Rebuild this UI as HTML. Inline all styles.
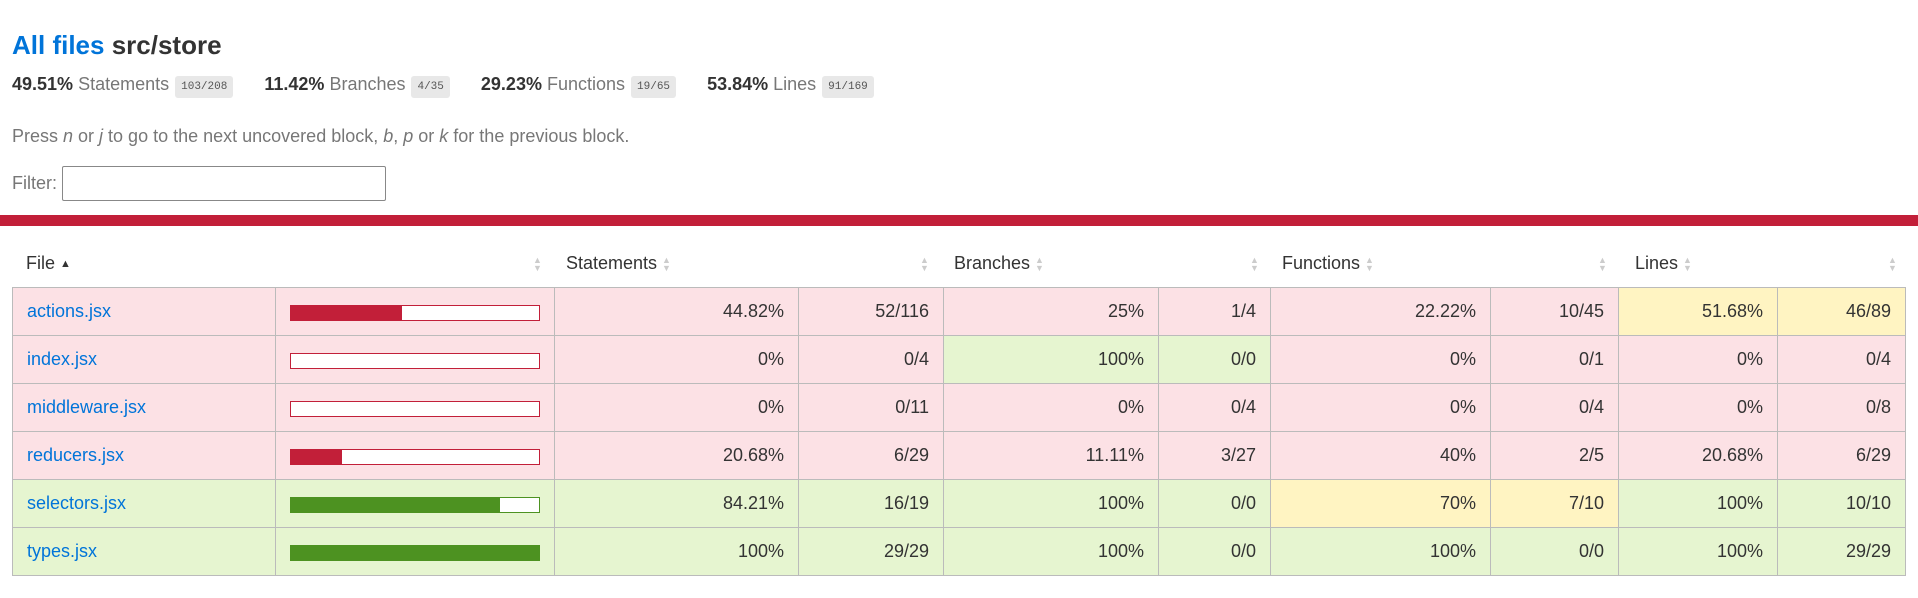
<!DOCTYPE html>
<html><head><meta charset="utf-8">
<style>
body{margin:0;width:1918px;height:598px;overflow:hidden;background:#fff;font-family:"Liberation Sans",Arial,sans-serif;color:#333;position:relative}
.abs{position:absolute;white-space:nowrap}
h1{position:absolute;left:12px;top:30px;margin:0;font-size:26px;font-weight:bold;color:#333}
h1 a{color:#0074D9;text-decoration:none}
.stats{position:absolute;left:12px;top:74px;font-size:18px;white-space:nowrap}
.stats span.g{margin-right:26px}
.stats b{font-weight:bold}
.q{color:#777}
.frac{font-family:"Liberation Mono",monospace;font-size:11px;background:#e8e8e8;border-radius:3px;padding:5px 6px;color:#555;margin-left:6px;position:relative;top:-1px}
.press{position:absolute;left:12px;top:126px;font-size:18px;color:#777}
.filter{position:absolute;left:12px;top:173px;font-size:18px;color:#777}
.inp{position:absolute;left:62px;top:166px;width:324px;height:35px;border:1px solid #888;border-radius:2px;box-sizing:border-box}
.red{position:absolute;left:0;top:215px;width:1918px;height:11px;background:#C21F39}
.th{position:absolute;top:253px;font-size:18px;color:#333}
table{position:absolute;left:12px;top:287px;border-collapse:collapse;table-layout:fixed;font-size:18px}
td{border:1px solid #bbb;height:48px;padding:0 14px;box-sizing:border-box;text-align:right}
td.file{text-align:left}
td.file a{color:#0074D9;text-decoration:none}
td.low{background:#FCE1E5}
td.medium{background:#FFF4C2}
td.high{background:#E6F5D0}
.bar{width:250px;height:16px;box-sizing:border-box;border:1px solid #C21F39;background:#fff;position:relative;top:1px}
.bar div{height:100%;background:#C21F39}
.bar.high{border-color:#4D9221}
.bar.high div{background:#4D9221}
</style></head><body>
<h1><a href="#">All files</a> src/store</h1>
<div class="stats">
<span class="g"><b>49.51%</b> <span class="q">Statements</span><span class="frac">103/208</span></span>
<span class="g"><b>11.42%</b> <span class="q">Branches</span><span class="frac">4/35</span></span>
<span class="g"><b>29.23%</b> <span class="q">Functions</span><span class="frac">19/65</span></span>
<span class="g"><b>53.84%</b> <span class="q">Lines</span><span class="frac">91/169</span></span>
</div>
<div class="press">Press <i>n</i> or <i>j</i> to go to the next uncovered block, <i>b</i>, <i>p</i> or <i>k</i> for the previous block.</div>
<div class="filter">Filter:</div>
<div class="inp"></div>
<div class="red"></div>
<div id="hdr"></div>
<table id="tbl">
<colgroup><col style="width:263px"><col style="width:279px"><col style="width:244px"><col style="width:145px"><col style="width:215px"><col style="width:112px"><col style="width:220px"><col style="width:128px"><col style="width:159px"><col style="width:128px"></colgroup>
<tbody id="tb"></tbody></table>
<script>
const files=["actions.jsx","index.jsx","middleware.jsx","reducers.jsx","selectors.jsx","types.jsx"];
const stmtPct=[44.82,0,0,20.68,84.21,100];
const stmtFrac=["52/116","0/4","0/11","6/29","16/19","29/29"];
const brPct=[25,100,0,11.11,100,100];
const brFrac=["1/4","0/0","0/4","3/27","0/0","0/0"];
const fnPct=[22.22,0,0,40,70,100];
const fnFrac=["10/45","0/1","0/4","2/5","7/10","0/0"];
const lnPct=[51.68,0,0,20.68,100,100];
const lnFrac=["46/89","0/4","0/8","6/29","10/10","29/29"];
function cls(p){return p>=80?'high':(p>=50?'medium':'low');}
function fmt(p){return p+'%';}
const tb=document.getElementById('tb');
files.forEach((f,i)=>{
  const tr=document.createElement('tr');
  
  
  const sc=cls(stmtPct[i]);
  const cells=[
    ['file',sc,'<a href="#">'+f+'</a>'],
    ['pic',sc,'<div class="bar '+(sc==='high'?'high':'')+'"><div style="width:'+stmtPct[i]+'%"></div></div>'],
    ['stmt-pct',sc,fmt(stmtPct[i])],['stmt-frac',sc,stmtFrac[i]],
    ['branch-pct',cls(brPct[i]),fmt(brPct[i])],['branch-frac',cls(brPct[i]),brFrac[i]],
    ['func-pct',cls(fnPct[i]),fmt(fnPct[i])],['func-frac',cls(fnPct[i]),fnFrac[i]],
    ['line-pct',cls(lnPct[i]),fmt(lnPct[i])],['line-frac',cls(lnPct[i]),lnFrac[i]]
  ];
  cells.forEach((c,j)=>{
    const td=document.createElement('td');
    td.className=c[1]+(j===0?' file':'');
    
    
    td.innerHTML=c[2];
    tr.appendChild(td);
  });
  tb.appendChild(tr);
});
const hdr=document.getElementById('hdr');
const hx=[26,566,954,1282,1635];
const hl=['File','Statements','Branches','Functions','Lines'];
hl.forEach((h,k)=>{
  const d=document.createElement('div');
  d.className='th';d.style.left=hx[k]+'px';
  
  
  d.innerHTML=h+(k===0?' <span style="font-size:11px;position:relative;top:-2px">&#9650;</span>':' <span style="color:#ccc;font-size:9px;line-height:8px;display:inline-block;vertical-align:middle">&#9650;<br>&#9660;</span>');
  hdr.appendChild(d);
});
const sx=[533,920,1250,1598,1888];
sx.forEach((x,k)=>{
  const s=document.createElement('div');
  s.className='abs';s.style.left=x+'px';s.style.top='256px';
  s.style.color='#ccc';s.style.fontSize='9px';s.style.lineHeight='8px';
  s.innerHTML='&#9650;<br>&#9660;';
  
  
  hdr.appendChild(s);
});
</script>
</body></html>
